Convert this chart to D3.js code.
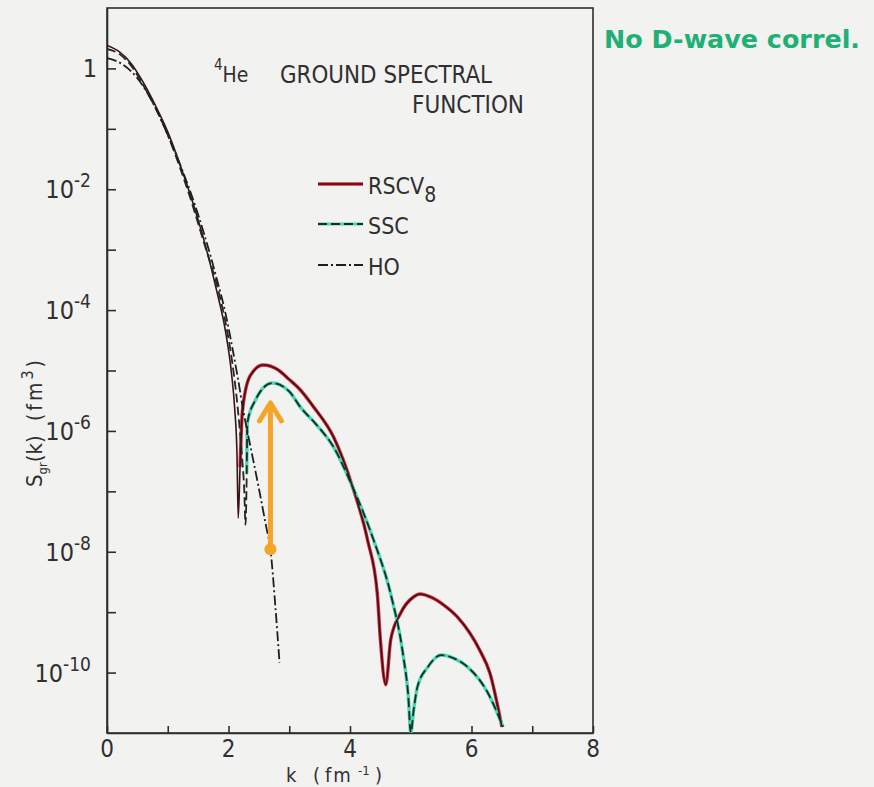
<!DOCTYPE html>
<html>
<head>
<meta charset="utf-8">
<script src="https://cdn.jsdelivr.net/npm/d3@7/dist/d3.min.js"></script>
<style>
  html, body { margin: 0; padding: 0; background: #f2f2f0; }
  svg { display: block; }
  text { font-family: 'Liberation Sans Narrow', 'DejaVu Sans Condensed', 'Liberation Sans', sans-serif; fill: #303030; }
</style>
</head>
<body>
<svg id="chart" width="874" height="787"></svg>
<script>
// k in fm^-1, S_gr(k) in fm^3
var rscv8 = [
  [0.00, 2.4], [0.20, 1.9], [0.40, 1.2], [0.60, 0.58], [0.80, 0.24],
  [1.00, 8.9e-2], [1.20, 2.6e-2], [1.40, 6.6e-3], [1.60, 1.4e-3], [1.80, 2.2e-4],
  [1.95, 4.5e-5], [2.05, 8.9e-6], [2.10, 2.5e-6], [2.14, 4.0e-7], [2.16, 3.6e-8],
  [2.19, 2.5e-7], [2.23, 2.2e-6], [2.36, 8.3e-6], [2.57, 1.23e-5], [2.80, 1.05e-5],
  [3.00, 7.1e-6], [3.18, 4.8e-6], [3.40, 2.5e-6], [3.73, 7.9e-7], [4.04, 1.2e-7],
  [4.29, 1.55e-8], [4.45, 2.0e-9], [4.50, 3.5e-10], [4.59, 6.3e-11], [4.67, 3.5e-10],
  [4.83, 9.5e-10], [5.05, 1.8e-9], [5.15, 2.0e-9], [5.35, 1.74e-9], [5.55, 1.3e-9],
  [5.77, 8.3e-10], [6.14, 2.3e-10], [6.30, 1.0e-10], [6.50, 1.26e-11]
];

var ssc = [
  [0.00, 2.1], [0.20, 1.74], [0.40, 1.1], [0.60, 0.52], [0.80, 0.22],
  [1.00, 7.9e-2], [1.20, 2.3e-2], [1.40, 5.8e-3], [1.60, 1.26e-3], [1.80, 2.8e-4],
  [1.95, 6.3e-5], [2.06, 1.4e-5], [2.15, 2.5e-6], [2.22, 4.0e-7], [2.26, 1.0e-7],
  [2.28, 2.8e-8], [2.30, 2.0e-7], [2.31, 1.35e-6], [2.44, 3.2e-6], [2.72, 6.2e-6],
  [3.00, 4.5e-6], [3.18, 2.5e-6], [3.45, 1.26e-6], [3.73, 5.4e-7], [4.04, 1.2e-7],
  [4.39, 1.55e-8], [4.67, 2.0e-9], [4.88, 1.8e-10], [4.96, 4.0e-11], [5.00, 1.0e-11],
  [5.05, 2.5e-11], [5.11, 5.8e-11], [5.28, 1.23e-10], [5.50, 1.95e-10], [5.72, 1.7e-10],
  [5.94, 1.23e-10], [6.27, 4.6e-11], [6.52, 1.26e-11]
];

var ho = [
  [0.00, 1.48], [0.20, 1.26], [0.40, 0.89], [0.60, 0.50], [0.80, 0.22],
  [1.00, 7.9e-2], [1.20, 2.6e-2], [1.40, 7.6e-3], [1.60, 1.8e-3], [1.80, 3.5e-4],
  [1.95, 8.9e-5], [2.05, 2.8e-5], [2.15, 7.9e-6], [2.25, 2.0e-6], [2.36, 5.6e-7],
  [2.49, 1.26e-7], [2.62, 2.6e-8], [2.69, 1.1e-8], [2.77, 1.3e-9], [2.84, 1.45e-10]
];

// hand colouring starts after the first zero of each curve
var rscv8ColourFrom = 2.19;
var sscColourFrom = 2.30;

// the orange arrow drawn over the plot (HO point -> SSC bump)
var arrowK = 2.69;
var arrowFrom = 1.1e-8;
var arrowTo = 2.9e-6;

var xTicks = [0, 1, 2, 3, 4, 5, 6, 7, 8];
var xTickLabels = ['0', '2', '4', '6', '8'];
var yTickExps = [0, -1, -2, -3, -4, -5, -6, -7, -8, -9, -10];
var yLabelExps = [0, -2, -4, -6, -8, -10];

var svg = d3.select('#chart');

var x = d3.scaleLinear().domain([0, 8]).range([107, 593]);
var y = d3.scaleLog().domain([1e-11, 10]).range([733, 8]);

svg.append('defs').append('clipPath').attr('id', 'plot-clip')
  .append('rect')
  .attr('x', x(0)).attr('y', y(10))
  .attr('width', x(8) - x(0)).attr('height', y(1e-11) - y(10));

/**
 * Frame and ticks
 */
var axisColour = '#2e2e2e';

svg.append('rect')
  .attr('x', x(0)).attr('y', y(10))
  .attr('width', x(8) - x(0)).attr('height', y(1e-11) - y(10))
  .attr('fill', 'none')
  .attr('stroke', axisColour)
  .attr('stroke-width', 1.6);

var xAxis = svg.append('g')
  .attr('transform', 'translate(0,' + y(1e-11) + ')')
  .call(d3.axisBottom(x).tickValues(xTicks).tickSizeInner(-7).tickSizeOuter(0).tickFormat(''));

var yAxis = svg.append('g')
  .attr('transform', 'translate(' + x(0) + ',0)')
  .call(d3.axisLeft(y)
    .tickValues(yTickExps.map(function (e) { return Math.pow(10, e); }))
    .tickSizeInner(-9).tickSizeOuter(0).tickFormat(''));

[xAxis, yAxis].forEach(function (g) {
  g.select('.domain').attr('stroke', axisColour).attr('stroke-width', 1.6);
  g.selectAll('.tick line').attr('stroke', axisColour).attr('stroke-width', 1.6);
});

svg.append('g').selectAll('text')
  .data(xTickLabels)
  .enter()
  .append('text')
  .attr('x', function (d) { return x(+d); })
  .attr('y', 757)
  .attr('text-anchor', 'middle')
  .style('font-size', '24px')
  .text(function (d) { return d; });

var yLabels = svg.append('g').selectAll('text')
  .data(yLabelExps)
  .enter()
  .append('text')
  .attr('x', function (d) { return d === 0 ? 97 : 91; })
  .attr('y', function (d) { return y(Math.pow(10, d)) + 9; })
  .attr('text-anchor', 'end')
  .style('font-size', '25px');

yLabels.each(function (d) {
  var t = d3.select(this);
  if (d === 0) {
    t.text('1');
    return;
  }
  t.append('tspan').text('10');
  t.append('tspan')
    .attr('dy', -11)
    .style('font-size', '19px')
    .text('-' + (-d));
});

// axis titles
var xTitle = svg.append('text')
  .attr('y', 782)
  .style('font-size', '20px');
xTitle.append('tspan').attr('x', 286).text('k');
xTitle.append('tspan').attr('x', 313).text('(');
xTitle.append('tspan').attr('x', 325).style('letter-spacing', '2px').text('fm');
xTitle.append('tspan').attr('x', 358).attr('dy', -7).style('font-size', '13px').text('-1');
xTitle.append('tspan').attr('x', 375).attr('dy', 7).text(')');

var yTitleA = svg.append('text')
  .attr('transform', 'translate(42,487) rotate(-90)')
  .style('font-size', '22px');
yTitleA.append('tspan').text('S');
yTitleA.append('tspan').attr('dy', 5).style('font-size', '13px').text('gr');
yTitleA.append('tspan').attr('dy', -5).text('(k)');

var yTitleB = svg.append('text')
  .attr('transform', 'translate(42,421) rotate(-90)')
  .style('font-size', '21px')
  .style('letter-spacing', '3px');
yTitleB.append('tspan').text('(fm');
yTitleB.append('tspan').attr('dy', -9).style('font-size', '16px').text('3');
yTitleB.append('tspan').attr('dy', 9).text(')');

/**
 * Curves
 */
var line = d3.line()
  .x(function (d) { return x(d[0]); })
  .y(function (d) { return y(d[1]); })
  .curve(d3.curveMonotoneX);

var curves = svg.append('g').attr('clip-path', 'url(#plot-clip)');

// colour highlights underneath the ink
curves.append('path')
  .attr('d', line(rscv8.filter(function (d) { return d[0] >= rscv8ColourFrom; })))
  .attr('fill', 'none')
  .attr('stroke', '#d92a3a')
  .attr('stroke-width', 3.4);

curves.append('path')
  .attr('d', line(ssc.filter(function (d) { return d[0] >= sscColourFrom; })))
  .attr('fill', 'none')
  .attr('stroke', '#45d6b2')
  .attr('stroke-width', 3.4);

curves.append('path')
  .attr('d', line(rscv8))
  .attr('fill', 'none')
  .attr('stroke', '#3a1418')
  .attr('stroke-width', 1.6);

curves.append('path')
  .attr('d', line(ssc))
  .attr('fill', 'none')
  .attr('stroke', '#1e2a24')
  .attr('stroke-width', 1.8)
  .attr('stroke-dasharray', '9,4');

curves.append('path')
  .attr('d', line(ho))
  .attr('fill', 'none')
  .attr('stroke', '#1e1e1e')
  .attr('stroke-width', 1.8)
  .attr('stroke-dasharray', '10,3,2,3');

// orange arrow
var arrowColour = '#f4a428';
var ax = x(arrowK), ay0 = y(arrowFrom), ay1 = y(arrowTo);
svg.append('line')
  .attr('x1', ax).attr('x2', ax)
  .attr('y1', ay0).attr('y2', ay1 + 2)
  .attr('stroke', arrowColour)
  .attr('stroke-width', 5)
  .attr('stroke-linecap', 'round');
svg.append('path')
  .attr('d', 'M' + (ax - 11) + ',' + (ay1 + 18) + 'L' + ax + ',' + ay1 + 'L' + (ax + 11) + ',' + (ay1 + 18))
  .attr('fill', 'none')
  .attr('stroke', arrowColour)
  .attr('stroke-width', 5)
  .attr('stroke-linecap', 'round')
  .attr('stroke-linejoin', 'round');
svg.append('circle')
  .attr('cx', ax).attr('cy', ay0)
  .attr('r', 6)
  .attr('fill', arrowColour);

/**
 * Title and legend
 */
var title = svg.append('text').attr('x', 214).attr('y', 82);
title.append('tspan').attr('dy', -12).style('font-size', '15px').text('4');
title.append('tspan').attr('dy', 12).style('font-size', '21px').text('He');

svg.append('text')
  .attr('x', 280).attr('y', 83)
  .attr('textLength', 212)
  .attr('lengthAdjust', 'spacingAndGlyphs')
  .style('font-size', '24px')
  .text('GROUND SPECTRAL');

svg.append('text')
  .attr('x', 412).attr('y', 113)
  .attr('textLength', 112)
  .attr('lengthAdjust', 'spacingAndGlyphs')
  .style('font-size', '24px')
  .text('FUNCTION');

var legendItems = [
  { label: 'RSCV', sub: '8', y: 184, kind: 'solid' },
  { label: 'SSC', sub: '', y: 224, kind: 'dash' },
  { label: 'HO', sub: '', y: 265, kind: 'dashdot' }
];

var legend = svg.append('g');
legendItems.forEach(function (item) {
  var lx0 = 318, lx1 = 363;
  if (item.kind === 'solid') {
    legend.append('line').attr('x1', lx0).attr('x2', lx1).attr('y1', item.y).attr('y2', item.y)
      .attr('stroke', '#d92a3a').attr('stroke-width', 3.4);
    legend.append('line').attr('x1', lx0).attr('x2', lx1).attr('y1', item.y).attr('y2', item.y)
      .attr('stroke', '#3a1418').attr('stroke-width', 1.6);
  } else if (item.kind === 'dash') {
    legend.append('line').attr('x1', lx0).attr('x2', lx1).attr('y1', item.y).attr('y2', item.y)
      .attr('stroke', '#45d6b2').attr('stroke-width', 3);
    legend.append('line').attr('x1', lx0).attr('x2', lx1).attr('y1', item.y).attr('y2', item.y)
      .attr('stroke', '#1e2a24').attr('stroke-width', 1.8).attr('stroke-dasharray', '9,4');
  } else {
    legend.append('line').attr('x1', lx0).attr('x2', lx1).attr('y1', item.y).attr('y2', item.y)
      .attr('stroke', '#1e1e1e').attr('stroke-width', 1.8).attr('stroke-dasharray', '10,3,2,3');
  }
  var t = legend.append('text')
    .attr('x', 368)
    .attr('y', item.y + 10)
    .style('font-size', '23px');
  t.append('tspan').text(item.label);
  if (item.sub) {
    t.append('tspan').attr('dy', 8).style('font-size', '21px').text(item.sub);
  }
});

// handwritten note in the margin
svg.append('text')
  .attr('x', 604).attr('y', 48)
  .attr('textLength', 256)
  .attr('lengthAdjust', 'spacingAndGlyphs')
  .style('font-family', "'DejaVu Sans', sans-serif")
  .style('font-size', '24px')
  .style('font-weight', 'bold')
  .style('fill', '#1fb075')
  .text('No D-wave correl.');
</script>
</body>
</html>
